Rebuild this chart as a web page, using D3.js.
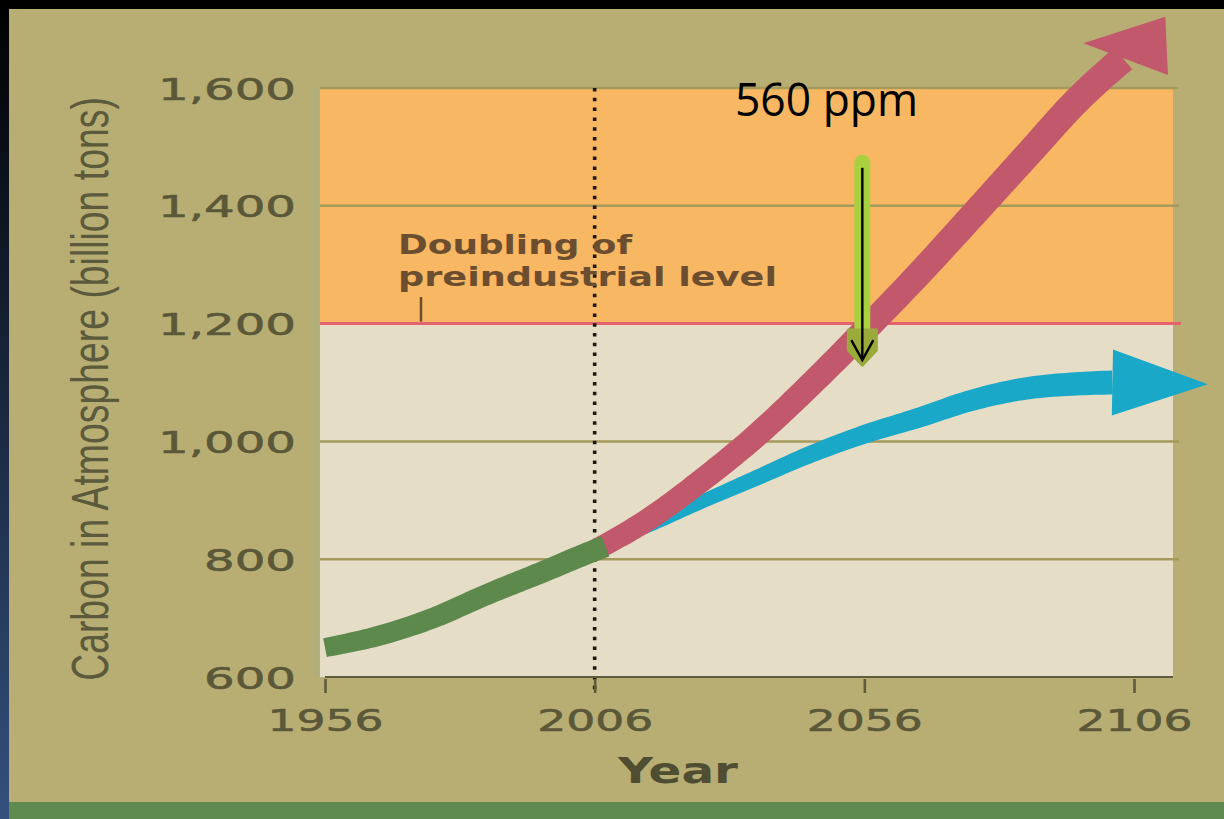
<!DOCTYPE html>
<html><head><meta charset="utf-8">
<script src="https://cdn.jsdelivr.net/npm/d3@7"></script>
<style>html,body{margin:0;padding:0;background:#b7ad73;}svg{display:block;}</style>
</head><body>
<svg id="chart" width="1224" height="819"></svg>
<script>
// ---------- data ----------
const yTicks = [600, 800, 1000, 1200, 1400, 1600];
const xTicks = [1956, 2006, 2056, 2106];
const gridValues = [800, 1000, 1400, 1600];
const doublingLevel = 1200;
const todayYear = 2006;
const annotYear = 2056;
const annotTop = 1473;
const annotBottom = 1138;

const histYears  = [1956, 1966, 1976, 1986, 1996, 2006, 2008];
const histValues = [650, 670, 700, 740, 777, 815, 822];

const bauYears  = [2006, 2016, 2026, 2036, 2046, 2056, 2066, 2076, 2086, 2096, 2104];
const bauValues = [815, 868, 935, 1010, 1096, 1188, 1283, 1383, 1484, 1584, 1650];
const bauTip = [2111.8, 1721];
const bauWings = [[2096.6, 1676], [2112.3, 1622]];

const stabYears  = [2006, 2016, 2026, 2036, 2046, 2056, 2066, 2076, 2086, 2096, 2102];
const stabValues = [815, 855, 898, 938, 978, 1012, 1040, 1070, 1090, 1098, 1100];
const stabTip = [2119.7, 1097];

// ---------- layout ----------
const svg = d3.select("#chart");
const W = 1224, H = 819;
const plotLeft = 320, plotRight = 1173;
const x = d3.scaleLinear().domain([1956, 2106]).range([325, 1134]);
const y = d3.scaleLinear().domain([600, 1600]).range([677, 88]);

const defs = svg.append("defs");
const lg = defs.append("linearGradient").attr("id","leftbar").attr("x1",0).attr("y1",0).attr("x2",0).attr("y2",1);
lg.append("stop").attr("offset","0%").attr("stop-color","#000");
lg.append("stop").attr("offset","100%").attr("stop-color","#34507e");

svg.append("rect").attr("width",W).attr("height",H).attr("fill","#b8ae74");
svg.append("rect").attr("x",0).attr("y",802).attr("width",W).attr("height",17).attr("fill","#5f8a50");
svg.append("rect").attr("x",0).attr("y",0).attr("width",W).attr("height",9).attr("fill","#000");
svg.append("rect").attr("x",0).attr("y",0).attr("width",9).attr("height",H).attr("fill","url(#leftbar)");

// plot backgrounds
svg.append("rect").attr("x",plotLeft).attr("y",y(1600)).attr("width",plotRight-plotLeft)
  .attr("height",y(doublingLevel)-y(1600)).attr("fill","#f8b762");
svg.append("rect").attr("x",plotLeft).attr("y",y(doublingLevel)).attr("width",plotRight-plotLeft)
  .attr("height",y(600)-y(doublingLevel)).attr("fill","#e6ddc7");
svg.append("line").attr("x1",plotLeft-4).attr("x2",plotLeft-4).attr("y1",y(1600)).attr("y2",y(600))
  .attr("stroke","#a9b07e").attr("stroke-width",5).attr("opacity",0.7);

// grid lines
svg.selectAll("line.grid").data(gridValues).enter().append("line").attr("class","grid")
  .attr("x1",plotLeft).attr("x2",plotRight+6).attr("y1",d=>y(d)).attr("y2",d=>y(d))
  .attr("stroke","#a59a5c").attr("stroke-width",2.5);
svg.append("line").attr("x1",plotLeft).attr("x2",plotRight+8)
  .attr("y1",y(doublingLevel)).attr("y2",y(doublingLevel))
  .attr("stroke","#e2636d").attr("stroke-width",3);

// dotted "today" line
svg.append("line").attr("x1",x(todayYear)).attr("x2",x(todayYear)).attr("y1",y(1600)).attr("y2",y(600)+14)
  .attr("stroke","#1a1a10").attr("stroke-width",3.6).attr("stroke-dasharray","3.5 6.3");

// axes
const xAxis = svg.append("g").attr("transform",`translate(0,${y(600)})`)
  .call(d3.axisBottom(x).tickValues(xTicks).tickFormat(d3.format("d")).tickSizeInner(16).tickSizeOuter(0).tickPadding(10));
xAxis.select(".domain").attr("d",`M${x(1956)},0H${plotRight}`).attr("stroke","#5e5c3c").attr("stroke-width",2.2);
xAxis.selectAll(".tick line").attr("stroke","#5e5c3c").attr("stroke-width",2.6).attr("y1",2);
xAxis.selectAll(".tick text").attr("fill","#5a5838").attr("stroke","#5a5838").attr("stroke-width",0.6)
  .attr("font-family","DejaVu Sans")
  .attr("font-size",31).attr("dy","0.9em").attr("textLength",116).attr("lengthAdjust","spacingAndGlyphs");

const yAxis = svg.append("g").attr("transform",`translate(296,0)`)
  .call(d3.axisLeft(y).tickValues(yTicks).tickFormat(d3.format(",")).tickSize(0).tickPadding(0));
yAxis.select(".domain").remove();
yAxis.selectAll(".tick text").attr("fill","#5a5838").attr("stroke","#5a5838").attr("stroke-width",0.6)
  .attr("font-family","DejaVu Sans")
  .attr("font-size",31).attr("dy","0.36em")
  .attr("textLength",d=>d>=1000?138:92).attr("lengthAdjust","spacingAndGlyphs");

svg.append("text").attr("x",678).attr("y",783).attr("text-anchor","middle")
  .attr("font-family","DejaVu Sans").attr("font-weight","bold").attr("font-size",35)
  .attr("fill","#4f4d32").attr("textLength",120).attr("lengthAdjust","spacingAndGlyphs").text("Year");

// y-axis title: condensed via horizontal scale to fit the axis height
const yTitle = svg.append("text").attr("text-anchor","middle")
  .attr("font-family","Liberation Sans Narrow, Liberation Sans").attr("font-size",52)
  .attr("fill","#5b5a3c").text("Carbon in Atmosphere (billion tons)");
const natural = yTitle.node().getComputedTextLength();
const sx = Math.min(1, 584 / natural);
yTitle.attr("transform",`translate(108,389) rotate(-90) scale(${sx},1)`);

// doubling label
const dl = svg.append("text").attr("font-family","DejaVu Sans").attr("font-weight","bold")
  .attr("font-size",27).attr("fill","#6b4d2f");
dl.append("tspan").attr("x",398).attr("y",254).attr("textLength",234).attr("lengthAdjust","spacingAndGlyphs").text("Doubling of");
dl.append("tspan").attr("x",398).attr("y",286).attr("textLength",379).attr("lengthAdjust","spacingAndGlyphs").text("preindustrial level");
svg.append("line").attr("x1",421).attr("x2",421).attr("y1",297).attr("y2",y(doublingLevel)-2)
  .attr("stroke","#6b4d2f").attr("stroke-width",2.5);

// ---------- arrows ----------
const lineGen = d3.line().x(d=>x(d[0])).y(d=>y(d[1])).curve(d3.curveMonotoneX);
const polyGen = d3.line().x(d=>x(d[0])).y(d=>y(d[1]));

function ribbon(points, w0, w1, n){
  const tmp = svg.append("path").attr("d", lineGen(points)).attr("fill","none");
  const node = tmp.node(), L = node.getTotalLength();
  const left=[], right=[];
  for(let i=0;i<=n;i++){
    const s=L*i/n;
    const p=node.getPointAtLength(s);
    const a=node.getPointAtLength(Math.max(0,s-1)), b=node.getPointAtLength(Math.min(L,s+1));
    let dx=b.x-a.x, dy=b.y-a.y; const m=Math.hypot(dx,dy)||1; dx/=m; dy/=m;
    const w=(w0+(w1-w0)*Math.pow(i/n,0.6))/2;
    left.push([p.x-dy*w, p.y+dx*w]); right.push([p.x+dy*w, p.y-dx*w]);
  }
  tmp.remove();
  return "M"+left.concat(right.reverse()).map(p=>p.join(",")).join("L")+"Z";
}
function head(base, tip, hw){
  const bx=x(base[0]), by=y(base[1]), tx=x(tip[0]), ty=y(tip[1]);
  let dx=tx-bx, dy=ty-by; const m=Math.hypot(dx,dy); dx/=m; dy/=m;
  return `M${tx},${ty}L${bx-dy*hw},${by+dx*hw}L${bx+dy*hw},${by-dx*hw}Z`;
}

const stabPts = stabYears.map((d,i)=>[d, stabValues[i]]);
const bauPts = bauYears.map((d,i)=>[d, bauValues[i]]);
const histPts = histYears.map((d,i)=>[d, histValues[i]]);

svg.append("path").attr("d", ribbon(stabPts, 7, 24, 120)).attr("fill","#1aa8c8");
svg.append("path").attr("d", head(stabPts[stabPts.length-1], stabTip, 33)).attr("fill","#1aa8c8");

svg.append("path").attr("d", ribbon(bauPts, 21, 28, 160)).attr("fill","#c2586b");
svg.append("path").attr("d", polyGen([bauTip, bauWings[0], bauWings[1]]) + "Z").attr("fill","#c2586b");

svg.append("path").attr("d", ribbon(histPts, 19, 22, 80)).attr("fill","#5d8a4c");

// 560 ppm annotation
const ax = x(annotYear) - 2;
const yb = y(annotBottom);
svg.append("line").attr("x1",ax).attr("x2",ax).attr("y1",y(annotTop)).attr("y2",yb-14)
  .attr("stroke","#a8d040").attr("stroke-width",16).attr("stroke-linecap","round");
svg.append("path").attr("d",`M${ax-14},${yb-30}L${ax+14},${yb-30}L${ax+14},${yb-10}L${ax},${yb+5}L${ax-14},${yb-10}Z`)
  .attr("fill","#9aab3c").attr("stroke","#9aab3c").attr("stroke-width",3).attr("stroke-linejoin","round");
svg.append("line").attr("x1",ax).attr("x2",ax).attr("y1",y(annotTop)+5).attr("y2",yb-2)
  .attr("stroke","#000").attr("stroke-width",2.4);
svg.append("path").attr("d",`M${ax-11},${yb-20}L${ax},${yb}L${ax+11},${yb-20}`)
  .attr("fill","none").attr("stroke","#000").attr("stroke-width",2.4);

svg.append("text").attr("x",735).attr("y",116).attr("font-family","Open Sans").attr("font-size",45)
  .attr("fill","#000").attr("textLength",183).attr("lengthAdjust","spacingAndGlyphs").text("560 ppm");
</script>
</body></html>
